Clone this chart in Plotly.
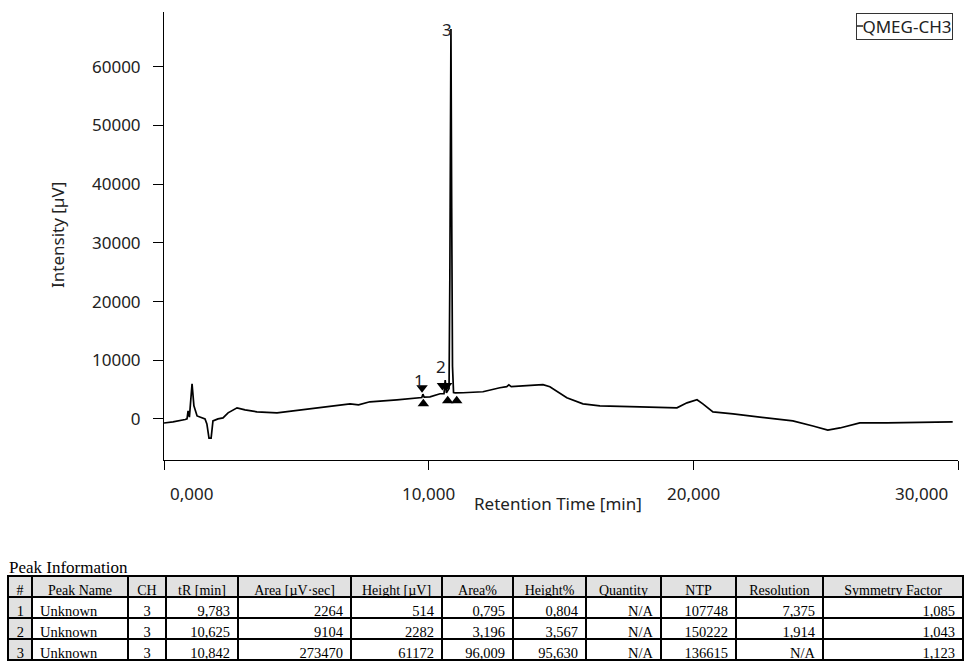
import plotly.graph_objects as go

# ---- chromatogram (retention time [min], intensity [µV]) ----
base_t = [0.00, 0.34, 0.80, 0.87, 0.91, 0.96, 1.06, 1.13, 1.25, 1.44, 1.55, 1.62,
          1.70, 1.78, 1.85, 2.04, 2.23, 2.42, 2.76, 3.06, 3.51, 4.27, 4.87, 5.52,
          6.00, 6.65, 7.03, 7.35, 7.78, 8.80, 9.56, 10.05, 10.43, 11.00, 11.30,
          12.05, 12.69, 12.95, 13.03, 13.12, 14.00, 14.32, 14.58, 15.22, 15.83,
          16.47, 17.98, 19.38, 19.76, 20.14, 20.36, 20.74, 21.50, 22.78, 23.76,
          24.52, 25.08, 25.54, 26.29, 27.31, 29.80]
base_v = [-700, -510, -100, 0, 1370, 300, 6000, 2230, 510, 170, 0, -860,
          -3260, -3260, -340, 0, 170, 1030, 1890, 1540, 1200, 1030, 1370, 1720,
          2060, 2400, 2570, 2400, 2920, 3260, 3600, 3770, 4290, 4450, 4460,
          4630, 5320, 5500, 5800, 5500, 5750, 5830, 5490, 3600, 2570,
          2230, 2060, 1890, 2740, 3260, 2570, 1200, 860, 170, -340,
          -1200, -1890, -1540, -690, -690, -510]

# flanks of the three integrated peaks
flank_t = [9.74, 9.83, 10.58, 10.67, 10.77, 10.80, 10.87, 10.90, 10.94]
flank_v = [3650, 3700, 4300, 4450, 5200, 24000, 36000, 9000, 4500]

# ---- peak table ----
peak_no = [1, 2, 3]
peak_name = ["Unknown", "Unknown", "Unknown"]
channel = [3, 3, 3]
t_ret = [9.783, 10.625, 10.842]
area = [2264, 9104, 273470]
height = [514, 2282, 61172]
area_pct = [0.795, 3.196, 96.009]
height_pct = [0.804, 3.567, 95.630]
quantity = ["N/A", "N/A", "N/A"]
ntp = [107748, 150222, 136615]
resolution = ["7,375", "1,914", "N/A"]
symmetry = [1.085, 1.043, 1.123]
apex_base = [3700, 4350, 5300]   # baseline level under each apex

# integration marks: start (down) and end (up) triangles
start_t = [9.75, 10.52, 10.68]
start_v = [5300, 5700, 5700]
end_t = [9.80, 10.72, 11.06]
end_v = [2600, 3100, 3100]

x_ticks = [0, 10, 20, 30]
x_tick_text = ["0,000", "10,000", "20,000", "30,000"]
y_ticks = [0, 10000, 20000, 30000, 40000, 50000, 60000]

table_cols = ["#", "Peak Name", "CH", "tR [min]", "Area [µV·sec]", "Height [µV]",
              "Area%", "Height%", "Quantity", "NTP", "Resolution", "Symmetry Factor"]
col_widths = [24, 96, 38, 72, 113, 91, 71, 73, 75, 75, 87, 140]


def dec(v):
    return f"{v:.3f}".replace(".", ",")


apex_v = [b + h for b, h in zip(apex_base, height)]
pts = sorted(zip(base_t + flank_t + t_ret, base_v + flank_v + apex_v))
trace_t = [p[0] for p in pts]
trace_v = [p[1] for p in pts]

W, H = 964, 661
FONT = "Noto Sans, Open Sans, sans-serif"
SERIF = "Liberation Serif, Times New Roman, serif"

fig = go.Figure()

fig.add_trace(go.Scatter(
    x=trace_t, y=trace_v, mode="lines", name="QMEG-CH3",
    line=dict(color="black", width=1.7), showlegend=False,
))
fig.add_trace(go.Scatter(
    x=start_t, y=start_v, mode="markers", showlegend=False,
    marker=dict(symbol="triangle-down", size=10, color="black"),
))
fig.add_trace(go.Scatter(
    x=end_t, y=end_v, mode="markers", showlegend=False,
    marker=dict(symbol="triangle-up", size=10, color="black"),
))

# peak table
header_fill = "#e1e1e1"
cell_fill = [[header_fill] * 3] + [["white"] * 3] * (len(table_cols) - 1)
fig.add_trace(go.Table(
    domain=dict(x=[8 / W, 963 / W], y=[0, 1 - 576 / H]),
    columnwidth=col_widths,
    header=dict(
        values=table_cols, fill_color=header_fill, align="center",
        line=dict(color="black", width=2.5), height=21,
        font=dict(family=SERIF, size=14, color="black"),
    ),
    cells=dict(
        values=[
            peak_no, peak_name, channel, [dec(v) for v in t_ret], area, height,
            [dec(v) for v in area_pct], [dec(v) for v in height_pct], quantity,
            ntp, resolution, [dec(v) for v in symmetry],
        ],
        fill_color=cell_fill,
        align=["right", "left", "center", "right", "right", "right", "right",
               "right", "right", "right", "right", "right"],
        line=dict(color="black", width=2.5), height=21,
        font=dict(family=SERIF, size=14.5, color="black"),
    ),
))

annotations = []
# peak numbers above each apex (kept inside the plot top)
for n, t, a in zip(peak_no, t_ret, apex_v):
    annotations.append(dict(
        x=t, y=min(a, 64000), xref="x", yref="y", text=str(n), showarrow=False,
        xanchor="right", yanchor="bottom", xshift=3,
        font=dict(family=FONT, size=17, color="#1e1e28"),
    ))
# x tick labels, first and last kept inside the axis span
for i, (t, s) in enumerate(zip(x_ticks, x_tick_text)):
    anchor = "left" if i == 0 else ("right" if i == len(x_ticks) - 1 else "center")
    shift = 4 if i == 0 else (-8 if i == len(x_ticks) - 1 else 0)
    annotations.append(dict(
        x=t, y=1 - 480 / H, xref="x", yref="paper", text=s, showarrow=False,
        xanchor=anchor, yanchor="top", xshift=shift,
        font=dict(family=FONT, size=17, color="#222"),
    ))
annotations += [
    dict(x=558 / W, y=1 - 503 / H, xref="paper", yref="paper",
         text="Retention Time [min]", showarrow=False, xanchor="center",
         yanchor="middle", font=dict(family=FONT, size=17, color="#222")),
    dict(x=58 / W, y=1 - 235 / H, xref="paper", yref="paper",
         text="Intensity [µV]", showarrow=False, textangle=-90, xanchor="center",
         yanchor="middle", font=dict(family=FONT, size=17, color="#222")),
    dict(x=953 / W, y=1 - 13 / H, xref="paper", yref="paper",
         text=" QMEG-CH3", showarrow=False, xanchor="right", yanchor="top",
         bordercolor="#333", borderwidth=1, borderpad=1,
         font=dict(family=FONT, size=17, color="#222")),
    dict(x=7 / W, y=1 - 567 / H, xref="paper", yref="paper",
         text="Peak Information", showarrow=False, xanchor="left",
         yanchor="middle", font=dict(family=SERIF, size=17, color="black")),
]

fig.update_layout(
    width=W, height=H, margin=dict(l=0, r=0, t=0, b=0),
    paper_bgcolor="white", plot_bgcolor="white",
    annotations=annotations,
    shapes=[dict(type="line", xref="paper", yref="paper", layer="above",
                 x0=857 / W, x1=863 / W, y0=1 - 26 / H, y1=1 - 26 / H,
                 line=dict(color="#222", width=1.5))],
    xaxis=dict(
        domain=[164 / W, 958 / W], range=[0, 30], tickvals=x_ticks,
        showticklabels=False, ticks="outside", ticklen=9, tickcolor="black",
        showline=True, linecolor="black", linewidth=1, showgrid=False,
        zeroline=False, fixedrange=True,
    ),
    yaxis=dict(
        domain=[1 - 460 / H, 1 - 12 / H], range=[-7000, 69350],
        tickvals=y_ticks, tickformat="d", ticks="outside", ticklen=10,
        tickcolor="black", ticklabelstandoff=9,
        tickfont=dict(family=FONT, size=17, color="#222"),
        showline=True, linecolor="black", linewidth=1, showgrid=False,
        zeroline=False, fixedrange=True,
    ),
)

fig.write_html("out.html")
